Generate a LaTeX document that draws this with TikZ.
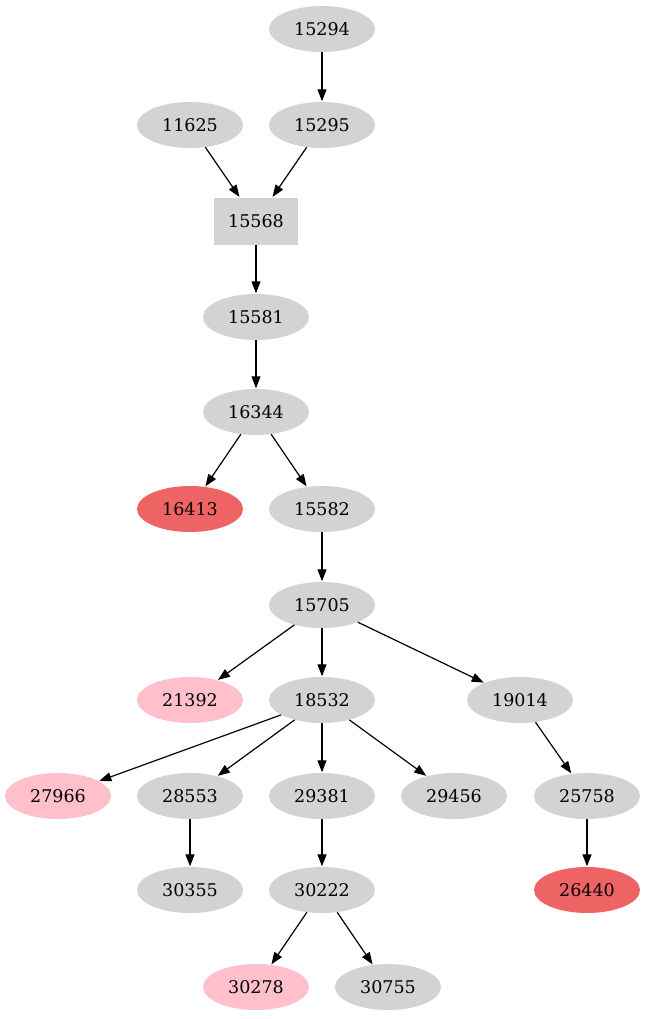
\documentclass[tikz,border=0pt]{standalone}
\usepackage{fontspec}
\setmainfont{DejaVu Serif}
\usetikzlibrary{shapes.geometric,arrows.meta}
\definecolor{lg}{HTML}{D3D3D3}
\definecolor{pk}{HTML}{FFC0CB}
\definecolor{ir}{HTML}{EE6363}
\begin{document}
\begin{tikzpicture}[x=1pt,y=-1pt,
  nd/.style={ellipse,fill=lg,minimum width=106pt,minimum height=46pt,inner sep=0pt,font=\fontsize{17.5}{20}\selectfont},
  pnk/.style={nd,fill=pk},
  red/.style={nd,fill=ir},
  bx/.style={rectangle,fill=lg,minimum width=84pt,minimum height=47pt,inner sep=0pt,font=\fontsize{17.5}{20}\selectfont},
  ed/.style={-{Triangle[length=12pt,width=9pt]},line width=1.2pt,shorten >=0.5pt}]
\useasboundingbox (0,0) rectangle (646,1019);
\node[nd] (n15294) at (322,29) {15294};
\node[nd] (n11625) at (190,125) {11625};
\node[nd] (n15295) at (322,125) {15295};
\node[bx] (n15568) at (256,221) {15568};
\node[nd] (n15581) at (256,317) {15581};
\node[nd] (n16344) at (256,412) {16344};
\node[red] (n16413) at (190,509) {16413};
\node[nd] (n15582) at (322,509) {15582};
\node[nd] (n15705) at (322,605) {15705};
\node[pnk] (n21392) at (190,700) {21392};
\node[nd] (n18532) at (322,700) {18532};
\node[nd] (n19014) at (520,700) {19014};
\node[pnk] (n27966) at (58,796) {27966};
\node[nd] (n28553) at (190,796) {28553};
\node[nd] (n29381) at (322,796) {29381};
\node[nd] (n29456) at (454,796) {29456};
\node[nd] (n25758) at (587,796) {25758};
\node[nd] (n30355) at (190,890) {30355};
\node[nd] (n30222) at (322,890) {30222};
\node[red] (n26440) at (587,890) {26440};
\node[pnk] (n30278) at (256,987) {30278};
\node[nd] (n30755) at (388,987) {30755};
\draw[ed] (n15294) -- (n15295);
\draw[ed] (n11625) -- (n15568);
\draw[ed] (n15295) -- (n15568);
\draw[ed] (n15568) -- (n15581);
\draw[ed] (n15581) -- (n16344);
\draw[ed] (n16344) -- (n16413);
\draw[ed] (n16344) -- (n15582);
\draw[ed] (n15582) -- (n15705);
\draw[ed] (n15705) -- (n21392);
\draw[ed] (n15705) -- (n18532);
\draw[ed] (n15705) -- (n19014);
\draw[ed] (n18532) -- (n27966);
\draw[ed] (n18532) -- (n28553);
\draw[ed] (n18532) -- (n29381);
\draw[ed] (n18532) -- (n29456);
\draw[ed] (n19014) -- (n25758);
\draw[ed] (n25758) -- (n26440);
\draw[ed] (n28553) -- (n30355);
\draw[ed] (n29381) -- (n30222);
\draw[ed] (n30222) -- (n30278);
\draw[ed] (n30222) -- (n30755);
\end{tikzpicture}
\end{document}
